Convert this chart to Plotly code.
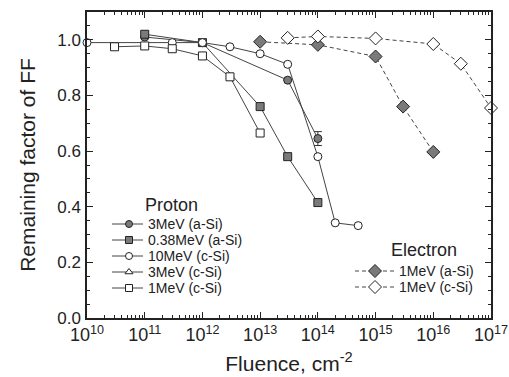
import plotly.graph_objects as go

# Proton irradiation data
p3_asi_x = [1e11, 1e12, 3e13, 1e14]
p3_asi_y = [1.01, 0.99, 0.855, 0.645]
p3_asi_err = [0, 0, 0, 0.025]

p038_asi_x = [1e11, 1e12, 1e13, 3e13, 1e14]
p038_asi_y = [1.02, 0.99, 0.76, 0.58, 0.415]

p10_csi_x = [1e10, 3e11, 1e12, 3e12, 1e13, 3e13, 1e14, 2e14, 5e14]
p10_csi_y = [0.99, 0.99, 0.99, 0.975, 0.95, 0.912, 0.58, 0.342, 0.332]

p3_csi_x = []
p3_csi_y = []

p1_csi_x = [3e10, 1e11, 3e11, 1e12, 3e12, 1e13]
p1_csi_y = [0.975, 0.978, 0.968, 0.942, 0.867, 0.665]

# Electron irradiation data
e1_asi_x = [1e13, 1e14, 1e15, 3e15, 1e16]
e1_asi_y = [0.993, 0.982, 0.94, 0.76, 0.597]

e1_csi_x = [3e13, 1e14, 1e15, 1e16, 3e16, 1e17]
e1_csi_y = [1.007, 1.012, 1.005, 0.985, 0.914, 0.755]

tick_exps = [10, 11, 12, 13, 14, 15, 16, 17]

proton_names = ["3MeV (a-Si)", "0.38MeV (a-Si)", "10MeV (c-Si)", "3MeV (c-Si)", "1MeV (c-Si)"]
electron_names = ["1MeV (a-Si)", "1MeV (c-Si)"]

fig = go.Figure()
line_c = "#444444"
fill_c = "#7a7a7a"
edge_c = "#222222"
dash_e = "4px,3px"

series = [
    (p3_asi_x, p3_asi_y, proton_names[0], "circle", True, "solid", p3_asi_err, 8),
    (p038_asi_x, p038_asi_y, proton_names[1], "square", True, "solid", None, 8),
    (p10_csi_x, p10_csi_y, proton_names[2], "circle", False, "solid", None, 8),
    (p3_csi_x, p3_csi_y, proton_names[3], "triangle-up", False, "solid", None, 8),
    (p1_csi_x, p1_csi_y, proton_names[4], "square", False, "solid", None, 8),
    (e1_asi_x, e1_asi_y, electron_names[0], "diamond", True, dash_e, None, 10),
    (e1_csi_x, e1_csi_y, electron_names[1], "diamond", False, dash_e, None, 10),
]

for x, y, name, sym, filled, dash, err, size in series:
    fig.add_trace(go.Scatter(
        x=x, y=y, name=name, mode="lines+markers", showlegend=False,
        line=dict(color=line_c, width=1, dash=dash),
        marker=dict(symbol=sym, size=size, color=fill_c if filled else "white",
                    line=dict(color=edge_c, width=1)),
        error_y=dict(type="data", array=err, color="#333333", thickness=1, width=4) if err else None,
        cliponaxis=False,
    ))

# Hand-drawn legends on an overlay axis spanning the plot area (0..1 fractions)
def px2fx(px):
    return (px - 87) / 404.0

def py2fy(py):
    return (318 - py) / 306.0

proton_rows = [224, 240, 256, 272, 288]
electron_rows = [271, 287]
legend_font = 14
annotations = []

for i, name in enumerate(proton_names):
    _, _, _, sym, filled, dash, _, size = series[i]
    yy = py2fy(proton_rows[i])
    fig.add_trace(go.Scatter(x=[px2fx(112), px2fx(143)], y=[yy, yy], mode="lines",
                             line=dict(color=line_c, width=1), xaxis="x2", yaxis="y2",
                             showlegend=False, hoverinfo="skip"))
    fig.add_trace(go.Scatter(x=[px2fx(129)], y=[yy], mode="markers",
                             marker=dict(symbol=sym, size=size - 1, color=fill_c if filled else "white",
                                         line=dict(color=edge_c, width=1)),
                             xaxis="x2", yaxis="y2", showlegend=False, hoverinfo="skip"))
    annotations.append(dict(x=px2fx(147), y=yy, xref="paper", yref="paper", text=name,
                            showarrow=False, xanchor="left", yanchor="middle", borderpad=0,
                            font=dict(size=legend_font, color="#222222")))

for j, name in enumerate(electron_names):
    _, _, _, sym, filled, dash, _, size = series[5 + j]
    yy = py2fy(electron_rows[j])
    fig.add_trace(go.Scatter(x=[px2fx(355), px2fx(394)], y=[yy, yy], mode="lines",
                             line=dict(color=line_c, width=1, dash=dash_e), xaxis="x2", yaxis="y2",
                             showlegend=False, hoverinfo="skip"))
    fig.add_trace(go.Scatter(x=[px2fx(375)], y=[yy], mode="markers",
                             marker=dict(symbol=sym, size=size, color=fill_c if filled else "white",
                                         line=dict(color=edge_c, width=1)),
                             xaxis="x2", yaxis="y2", showlegend=False, hoverinfo="skip"))
    annotations.append(dict(x=px2fx(398), y=yy, xref="paper", yref="paper", text=name,
                            showarrow=False, xanchor="left", yanchor="middle", borderpad=0,
                            font=dict(size=legend_font, color="#222222")))

annotations.append(dict(x=px2fx(143), y=py2fy(205), xref="paper", yref="paper", text="Proton",
                        showarrow=False, xanchor="left", yanchor="middle",
                        font=dict(size=18, color="#222222")))
annotations.append(dict(x=px2fx(424), y=py2fy(250), xref="paper", yref="paper", text="Electron",
                        showarrow=False, xanchor="center", yanchor="middle",
                        font=dict(size=18, color="#222222")))

font_main = "Liberation Sans, Arial, sans-serif"

fig.update_layout(
    width=509, height=377,
    margin=dict(l=87, r=18, t=12, b=59, autoexpand=False),
    paper_bgcolor="white", plot_bgcolor="white",
    font=dict(family=font_main, color="#222222"),
    showlegend=False,
    annotations=annotations,
    xaxis=dict(
        type="log", range=[10, 17], automargin=False,
        tickmode="array",
        tickvals=[10 ** e for e in tick_exps],
        ticktext=[f"10<sup>{e}</sup>" for e in tick_exps],
        ticks="inside", ticklen=6, tickwidth=1, tickcolor="#222222",
        minor=dict(ticks="inside", ticklen=3, tickcolor="#222222", dtick="D1"),
        showline=True, linecolor="#222222", linewidth=1.5, mirror="ticks",
        showgrid=False, zeroline=False,
        tickfont=dict(size=18, family=font_main, color="#222222"),
        title=dict(text="Fluence, cm<sup>-2</sup>", font=dict(size=21, color="#222222"), standoff=12),
    ),
    yaxis=dict(
        range=[0, 1.1], automargin=False,
        tickvals=[0, 0.2, 0.4, 0.6, 0.8, 1.0],
        ticktext=["0.0", "0.2", "0.4", "0.6", "0.8", "1.0"],
        ticks="inside", ticklen=6, tickwidth=1, tickcolor="#222222",
        minor=dict(ticks="inside", ticklen=3, tickcolor="#222222", dtick=0.05),
        showline=True, linecolor="#222222", linewidth=1.5, mirror="ticks",
        showgrid=False, zeroline=False, ticklabelstandoff=1,
        tickfont=dict(size=17, family=font_main, color="#222222"),
        title=dict(text="Remaining factor of FF", font=dict(size=21, color="#222222"), standoff=16),
    ),
    xaxis2=dict(range=[0, 1], overlaying="x", anchor="y2", visible=False, fixedrange=True),
    yaxis2=dict(range=[0, 1], overlaying="y", anchor="x2", visible=False, fixedrange=True),
)

fig.write_html("out.html")
